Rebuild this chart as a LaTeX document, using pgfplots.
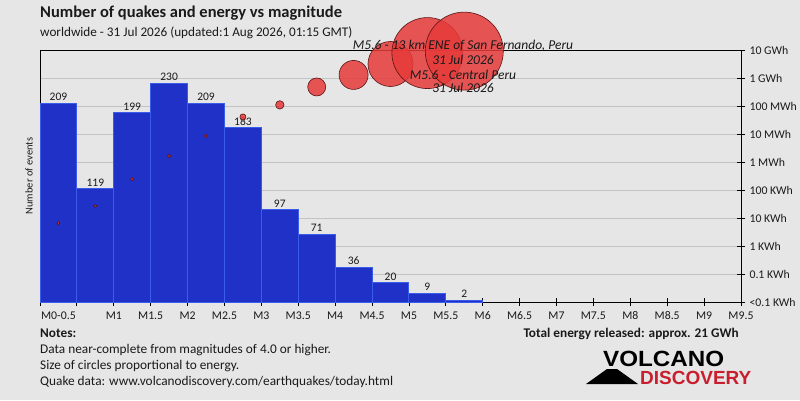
\documentclass[border=0pt]{standalone}
\usepackage{pgfplots}
\pgfplotsset{compat=1.18}
\usepackage{pgfplotstable}
\usepackage{fontspec}
\setmainfont{Carlito}
\setsansfont{Carlito}
\newfontfamily\logofont{Liberation Sans}
\definecolor{bg}{HTML}{E6E6E6}
\definecolor{barfill}{HTML}{1F31C7}
\definecolor{baredge}{HTML}{3A5CEB}
\definecolor{gridc}{HTML}{C3C3C3}
\definecolor{circfill}{HTML}{E63A3A}
\definecolor{circedge}{HTML}{5A1414}
\definecolor{logored}{HTML}{C81E2D}
\definecolor{txt}{HTML}{1A1A1A}

\pgfplotstableread{
x e r
0.25 3.82 1.5
0.75 4.43 1.5
1.25 5.39 1.6
1.75 6.21 1.6
2.25 6.93 1.6
2.75 7.61 3.0
3.25 8.04 4.2
3.75 8.68 9.0
4.25 9.11 14.5
4.75 9.50 22.5
5.25 9.89 35.5
5.75 9.96 39
}\energy

\pgfplotstableread{
x n
0.25 209
0.75 119
1.25 199
1.75 230
2.25 209
2.75 183
3.25 97
3.75 71
4.25 36
4.75 20
5.25 9
5.75 2
}\counts

\begin{document}
\begin{tikzpicture}[x=1pt,y=1pt]
\path[use as bounding box, fill=bg] (0,0) rectangle (800,400);

% frame, grid, right axis, ticks
\begin{axis}[at={(40pt,98pt)}, anchor=south west, scale only axis,
  width=701pt, height=252pt,
  xmin=0, xmax=9.5, ymin=1, ymax=10,
  axis line style={black, line width=0.9pt},
  xtick={0,0.5,...,9.5},
  xticklabels={,,M1,M1.5,M2,M2.5,M3,M3.5,M4,M4.5,M5,M5.5,M6,M6.5,M7,M7.5,M8,M8.5,M9,M9.5},
  extra x ticks={0.25}, extra x tick labels={M0-0.5},
  extra x tick style={tick style={draw=none}},
  ytick={1,2,...,10},
  yticklabels={<0.1 KWh,0.1 KWh,1 KWh,10 KWh,100 KWh,1 MWh,10 MWh,100 MWh,1 GWh,10 GWh},
  xtick pos=bottom, ytick pos=right,
  tick align=center, major tick length=8pt,
  tick style={black, line width=0.8pt},
  ymajorgrids, grid style={gridc, line width=0.9pt},
  ticklabel style={font=\fontsize{11.8}{13}\selectfont, text=txt},
  yticklabel style={anchor=west, xshift=1pt},
  xticklabel style={anchor=base, yshift=-13pt},
]
\end{axis}

% bars
\begin{axis}[at={(40pt,98pt)}, anchor=south west, scale only axis,
  width=701pt, height=252pt,
  xmin=0, xmax=9.5, ymin=0, ymax=265, hide axis, clip=false,
  /pgf/number format/assume math mode=true]
\addplot[ybar interval, fill=barfill, draw=baredge, line width=1pt]
  coordinates {(0,209) (0.5,119) (1,199) (1.5,230) (2,209) (2.5,183) (3,97) (3.5,71) (4,36) (4.5,20) (5,9) (5.5,2) (6,2)};
\addplot[draw=none, mark=none, nodes near coords, point meta=y,
  nodes near coords style={font=\fontsize{11.5}{12}\selectfont, text=txt, anchor=south, inner sep=2.5pt}]
  table[x=x, y=n] {\counts};
\end{axis}

% energy circles
\begin{axis}[at={(40pt,98pt)}, anchor=south west, scale only axis,
  width=701pt, height=252pt,
  xmin=0, xmax=9.5, ymin=1, ymax=10, hide axis, clip=false]
\addplot[scatter, only marks, mark=*,
  scatter/use mapped color={draw=circedge, fill=circfill},
  visualization depends on={\thisrow{r} \as \perpointmarksize},
  scatter/@pre marker code/.append style={/tikz/mark size=\perpointmarksize},
  mark options={fill opacity=0.85, line width=0.6pt}]
  table[x=x, y=e] {\energy};
\end{axis}

% annotations
\begin{scope}[every node/.style={font=\itshape\fontsize{13.5}{15}\selectfont, text=txt, anchor=base, inner sep=0pt}]
\node at (463,350) {M5.6 - 13 km ENE of San Fernando, Peru};
\node at (463,336) {31 Jul 2026};
\node at (463,321) {M5.6 - Central Peru};
\node at (463,308) {31 Jul 2026};
\end{scope}

% titles
\node[anchor=base west, inner sep=0pt, text=txt, font=\bfseries\fontsize{16.5}{18}\selectfont] at (40,382) {Number of quakes and energy vs magnitude};
\node[anchor=base west, inner sep=0pt, text=txt, font=\fontsize{13.2}{14}\selectfont] at (40,363) {worldwide - 31 Jul 2026 (updated:1 Aug 2026, 01:15 GMT)};
\node[rotate=90, inner sep=0pt, text=txt, font=\fontsize{10.5}{12}\selectfont] at (29,224) {Number of events};

% notes
\begin{scope}[every node/.style={anchor=base west, inner sep=0pt, text=txt, font=\fontsize{13.3}{14}\selectfont}]
\node[font=\bfseries\fontsize{13.3}{14}\selectfont] at (40,63) {Notes:};
\node at (40,47) {Data near-complete from magnitudes of 4.0 or higher.};
\node at (40,31) {Size of circles proportional to energy.};
\node at (40,15) {Quake data: www.volcanodiscovery.com/earthquakes/today.html};
\end{scope}
\node[anchor=base east, inner sep=0pt, text=txt, font=\bfseries\fontsize{13.3}{14}\selectfont] at (739,63) {Total energy released: approx. 21 GWh};

% logo
\fill[black] (586,16) -- (607,31) -- (617,31) -- (638,16) -- cycle;
\node[anchor=base west, inner sep=0pt, text depth=0pt, font=\logofont\bfseries\fontsize{22}{24}\selectfont, xscale=1.1] at (603,33.5) {VOLCANO};
\node[anchor=base west, inner sep=0pt, text depth=0pt, text=logored, font=\logofont\bfseries\fontsize{19}{21}\selectfont] at (640,16) {DISCOVERY};
\end{tikzpicture}
\end{document}
